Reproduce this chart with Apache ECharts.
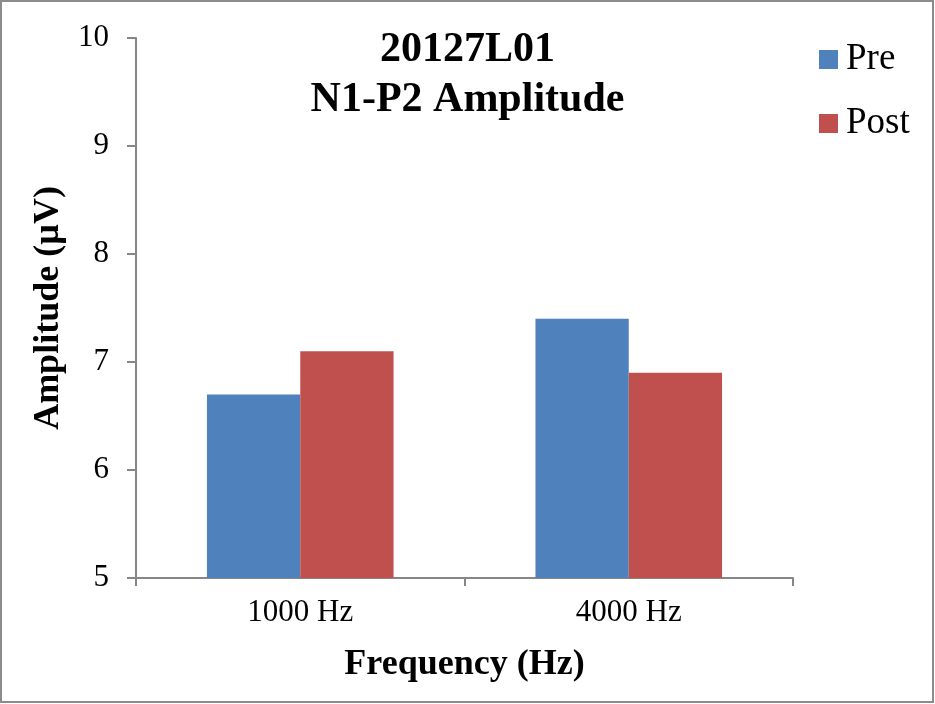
<!DOCTYPE html>
<html>
<head>
<meta charset="utf-8">
<script src="https://cdn.jsdelivr.net/npm/echarts@6/dist/echarts.min.js"></script>
<style>
html,body{margin:0;padding:0;background:#fff;}
#c{width:935px;height:704px;}
</style>
</head>
<body>
<div id="c"></div>
<script>
const categories = ['1000 Hz', '4000 Hz'];
const preValues = [6.7, 7.4];
const postValues = [7.1, 6.9];
const yTicks = [5, 6, 7, 8, 9, 10];

const font = '"Liberation Serif", "Times New Roman", serif';
const axisGray = '#868686';
const chart = echarts.init(document.getElementById('c'), null, {renderer: 'canvas'});
chart.setOption({
  backgroundColor: '#fff',
  animation: false,
  graphic: [{
    type: 'rect', shape: {x: 1, y: 1, width: 932, height: 701},
    style: {fill: 'none', stroke: '#8c8c8c', lineWidth: 2}, silent: true
  }],
  title: {
    text: '20127L01\nN1-P2 Amplitude',
    left: 'center', top: 20,
    textStyle: {fontFamily: font, fontSize: 42, fontWeight: 'bold', color: '#000', lineHeight: 50}
  },
  legend: {
    data: ['Pre', 'Post'],
    orient: 'vertical', left: 814, top: 36,
    itemWidth: 19, itemHeight: 19, itemGap: 27,
    icon: 'rect',
    textStyle: {fontFamily: font, fontSize: 37, color: '#000', padding: [0, 0, 0, 3]}
  },
  grid: {left: 136, right: 142, top: 38, bottom: 126},
  xAxis: {
    type: 'category', data: categories,
    axisLine: {lineStyle: {color: axisGray, width: 2}},
    axisTick: {show: true, length: 8, lineStyle: {color: axisGray, width: 2}},
    axisLabel: {fontFamily: font, fontSize: 31, color: '#000', margin: 19},
    name: 'Frequency (Hz)', nameLocation: 'middle', nameGap: 69,
    nameTextStyle: {fontFamily: font, fontSize: 36, fontWeight: 'bold', color: '#000'}
  },
  yAxis: {
    type: 'value', min: yTicks[0], max: yTicks[yTicks.length - 1], interval: 1,
    axisLine: {show: true, lineStyle: {color: axisGray, width: 2}},
    axisTick: {show: true, length: 9, lineStyle: {color: axisGray, width: 2}},
    splitLine: {show: false},
    axisLabel: {fontFamily: font, fontSize: 31, color: '#000', margin: 27},
    name: 'Amplitude (µV)', nameLocation: 'middle', nameGap: 67,
    nameTextStyle: {fontFamily: font, fontSize: 36, fontWeight: 'bold', color: '#000'}
  },
  series: [
    {name: 'Pre', type: 'bar', data: preValues, barWidth: '28.4%', barGap: '0%',
     itemStyle: {color: '#4F81BD'}},
    {name: 'Post', type: 'bar', data: postValues, barWidth: '28.4%', barGap: '0%',
     itemStyle: {color: '#C0504D'}}
  ]
});
</script>
</body>
</html>
